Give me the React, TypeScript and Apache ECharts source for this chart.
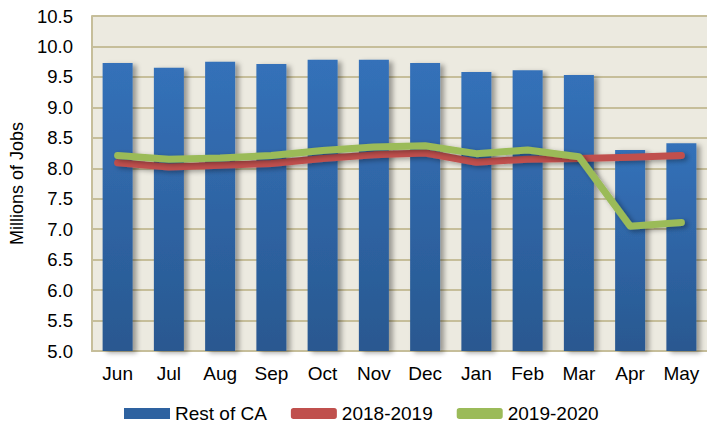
import React, { useEffect, useRef } from "react";
import * as echarts from "echarts";

const months = ["Jun", "Jul", "Aug", "Sep", "Oct", "Nov", "Dec", "Jan", "Feb", "Mar", "Apr", "May"];
const restOfCA = [9.73, 9.65, 9.75, 9.71, 9.78, 9.78, 9.73, 9.58, 9.61, 9.53, 8.30, 8.41];
const y2018_2019 = [8.09, 8.02, 8.05, 8.08, 8.16, 8.22, 8.25, 8.10, 8.15, 8.16, 8.18, 8.21];
const y2019_2020 = [8.21, 8.15, 8.17, 8.21, 8.29, 8.35, 8.37, 8.24, 8.30, 8.19, 7.05, 7.11];

export default function App() {
  const ref = useRef<HTMLDivElement>(null);
  useEffect(() => {
    if (!ref.current) return;
    const chart = echarts.init(ref.current, undefined, { renderer: "svg" });
    const font = "'Liberation Sans', Arial, sans-serif";
    chart.setOption({
      animation: false,
      backgroundColor: "#ffffff",
      textStyle: { fontFamily: font },
      grid: { left: 92, right: 0, top: 16, bottom: 78, backgroundColor: "#ECEAE0", show: true, borderWidth: 0 },
      legend: {
        left: 119,
        bottom: 1,
        itemWidth: 46,
        itemHeight: 11,
        itemGap: 24,
        itemTextGap: 4,
        textStyle: { fontSize: 19, color: "#000", fontFamily: font },
        data: [
          { name: "Rest of CA", icon: "rect", itemStyle: { color: "#2E62A0" } },
          { name: "2018-2019", icon: "roundRect" },
          { name: "2019-2020", icon: "roundRect" },
        ],
      },
      xAxis: {
        type: "category",
        data: months,
        axisLine: { lineStyle: { color: "#C6BE9A", width: 2 } },
        axisTick: { show: false },
        axisLabel: { fontSize: 19, color: "#000", margin: 13, fontFamily: font },
      },
      yAxis: {
        type: "value",
        min: 5,
        max: 10.5,
        interval: 0.5,
        name: "Millions of Jobs",
        nameLocation: "middle",
        nameGap: 66,
        nameRotate: 90,
        nameTextStyle: { fontSize: 18, color: "#000", fontFamily: font },
        axisLine: { show: true, lineStyle: { color: "#C6BE9A", width: 2 } },
        axisTick: { show: false },
        axisLabel: {
          fontSize: 18.5,
          color: "#000",
          margin: 19,
          fontFamily: font,
          formatter: (v: number) => v.toFixed(1),
        },
        splitLine: { lineStyle: { color: "#C6BE9A", width: 2 } },
      },
      series: [
        {
          name: "Rest of CA",
          type: "bar",
          data: restOfCA,
          barWidth: 30,
          itemStyle: {
            color: new echarts.graphic.LinearGradient(0, 0, 0, 1, [
              { offset: 0, color: "#3471B9" },
              { offset: 1, color: "#295890" },
            ]),
            shadowColor: "rgba(0,0,0,0.35)",
            shadowBlur: 5,
            shadowOffsetX: 4,
            shadowOffsetY: 2,
          },
        },
        {
          name: "2018-2019",
          type: "line",
          data: y2018_2019,
          showSymbol: false,
          symbol: "none",
          color: "#C0504D",
          lineStyle: {
            color: "#C0504D",
            width: 7,
            cap: "round",
            join: "round",
            shadowColor: "rgba(0,0,0,0.35)",
            shadowBlur: 5,
            shadowOffsetX: 3,
            shadowOffsetY: 2,
          },
        },
        {
          name: "2019-2020",
          type: "line",
          data: y2019_2020,
          showSymbol: false,
          symbol: "none",
          color: "#9BBB59",
          lineStyle: {
            color: "#9BBB59",
            width: 7,
            cap: "round",
            join: "round",
            shadowColor: "rgba(0,0,0,0.35)",
            shadowBlur: 5,
            shadowOffsetX: 3,
            shadowOffsetY: 2,
          },
        },
      ],
    });
    return () => chart.dispose();
  }, []);
  return <div ref={ref} style={{ width: 707, height: 429, position: "absolute", left: 0, top: 0 }} />;
}
